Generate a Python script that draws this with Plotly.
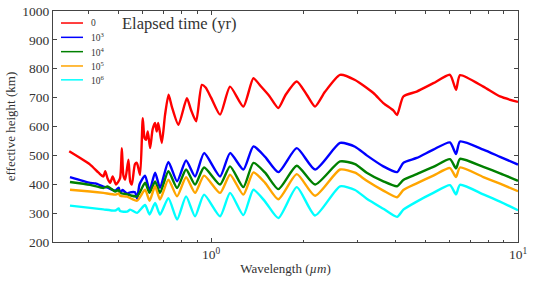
import plotly.graph_objects as go

# ---- data (wavelength in micron, effective height in km) ----
red_wl = [0.345, 0.4036, 0.43, 0.4457, 0.452, 0.46, 0.469, 0.478, 0.49, 0.505, 0.512, 0.518,
          0.525, 0.538, 0.545, 0.552, 0.565, 0.573, 0.587, 0.599, 0.607, 0.614, 0.622, 0.633,
          0.645, 0.657, 0.665, 0.673, 0.691, 0.708, 0.727, 0.745, 0.783, 0.834, 0.86, 0.894,
          0.933, 0.96, 1.0, 1.07, 1.153, 1.274, 1.374, 1.45, 1.55, 1.657, 1.75, 1.902, 2.05,
          2.182, 2.35, 2.632, 2.945, 3.38, 3.641, 3.93, 4.036, 4.231, 4.677, 5.299, 6.003,
          6.281, 6.473, 7.709, 8.738, 10.0]
red_h = [514, 468, 440, 427, 445, 420, 405, 427, 399, 420, 525, 430,
         416, 485, 410, 399, 470, 474, 433, 629, 560, 554, 583, 525,
         590, 612, 583, 612, 543, 640, 710, 669, 606, 698, 658, 618,
         744, 735, 700, 641, 738, 669, 767, 740, 705, 664, 710, 756, 710,
         669, 720, 779, 761, 716, 681, 655, 640, 704, 721, 750, 779,
         727, 778, 738, 704, 685]

blue_wl = [0.347, 0.4036, 0.42, 0.4457, 0.46, 0.4868, 0.50, 0.5053, 0.515, 0.5326, 0.545,
           0.565, 0.5741, 0.585, 0.6095, 0.6303, 0.6571, 0.6819, 0.726, 0.7749, 0.829, 0.8869,
           0.9489, 1.07, 1.153, 1.274, 1.374, 1.5, 1.657, 1.902, 2.182, 2.632, 2.945, 3.215,
           3.641, 4.036, 4.231, 4.677, 5.299, 6.003, 6.281, 6.473, 7.709, 8.738, 10.0]
blue_h = [425, 405, 403, 392, 388, 378, 388, 370, 380, 368, 372,
          372, 350, 400, 430, 378, 440, 388, 477, 410, 482, 427,
          508, 427, 508, 451, 531, 495, 442, 525, 451, 543, 530, 500,
          462, 442, 474, 491, 520, 545, 505, 548, 520, 495, 468]

green_wl = [0.347, 0.4036, 0.4457, 0.46, 0.4868, 0.50, 0.5053, 0.5326, 0.5741, 0.6095, 0.6303,
            0.6571, 0.6819, 0.726, 0.7749, 0.829, 0.8869, 0.9489, 1.07, 1.153, 1.274, 1.374,
            1.5, 1.657, 1.902, 2.182, 2.632, 2.945, 3.215, 3.641, 4.036, 4.231, 4.677, 5.299,
            6.003, 6.281, 6.473, 7.709, 8.738, 10.0]
green_h = [408, 398, 387, 392, 375, 380, 370, 365, 358, 405, 370,
           410, 370, 445, 387, 451, 399, 458, 399, 462, 390, 474,
           440, 383, 464, 399, 479, 470, 440, 410, 393, 415, 435, 460,
           487, 455, 488, 460, 438, 412]

orange_wl = [0.347, 0.4036, 0.4457, 0.4868, 0.50, 0.5053, 0.5326, 0.5741, 0.6095, 0.6303,
             0.6571, 0.6819, 0.726, 0.7749, 0.829, 0.8869, 0.9489, 1.07, 1.153, 1.274, 1.374,
             1.5, 1.657, 1.902, 2.182, 2.632, 2.945, 3.215, 3.641, 4.036, 4.231, 4.677, 5.299,
             6.003, 6.281, 6.473, 7.709, 8.738, 10.0]
orange_h = [381, 375, 370, 364, 368, 360, 357, 343, 381, 343,
            393, 347, 416, 358, 424, 370, 430, 370, 433, 364, 441,
            405, 348, 435, 360, 451, 440, 412, 378, 355, 380, 403, 430,
            456, 425, 458, 425, 402, 376]

cyan_wl = [0.347, 0.4036, 0.4457, 0.4868, 0.50, 0.5053, 0.5326, 0.545, 0.5741, 0.6095, 0.6303,
           0.6571, 0.6819, 0.726, 0.7749, 0.829, 0.8869, 0.9489, 1.07, 1.153, 1.274, 1.374,
           1.5, 1.657, 1.902, 2.182, 2.632, 2.945, 3.215, 3.641, 4.036, 4.231, 4.677, 5.299,
           6.003, 6.281, 6.473, 7.709, 8.738, 10.0]
cyan_h = [326, 318, 313, 309, 316, 307, 305, 312, 301, 328, 295,
          335, 295, 352, 278, 358, 289, 364, 289, 370, 293, 381,
          340, 283, 390, 292, 393, 380, 350, 315, 287, 312, 340, 370,
          397, 365, 398, 365, 340, 310]

series_names = ["0", "10<sup>3</sup>", "10<sup>4</sup>", "10<sup>5</sup>", "10<sup>6</sup>"]
series_colors = ["#ff0000", "#0000ff", "#008000", "#ffa500", "#00ffff"]

y_ticks = [200, 300, 400, 500, 600, 700, 800, 900, 1000]
x_major = [1, 10]
x_major_text = ["10<sup>0</sup>", "10<sup>1</sup>"]
x_minor = [0.4, 0.5, 0.6, 0.7, 0.8, 0.9, 2, 3, 4, 5, 6, 7, 8, 9]

FONT = "Liberation Serif"
AXC = "#444444"
TXT = "#333333"

fig = go.Figure()
data = [(red_wl, red_h), (blue_wl, blue_h), (green_wl, green_h),
        (orange_wl, orange_h), (cyan_wl, cyan_h)]
for (wl, h), name, col in zip(data, series_names, series_colors):
    fig.add_trace(go.Scatter(x=wl, y=h, mode="lines", name=name, showlegend=False,
                             line=dict(color=col, width=2.4, shape="spline", smoothing=0.6)))

# legend drawn in the upper-left corner (paper coordinates)
shapes = []
annotations = []
leg_y = [0.948, 0.886, 0.824, 0.762, 0.702]
for yy, name, col in zip(leg_y, series_names, series_colors):
    shapes.append(dict(type="line", xref="paper", yref="paper", x0=0.0172, x1=0.0645,
                       y0=yy, y1=yy, line=dict(color=col, width=1.5)))
    annotations.append(dict(text=name, x=0.0775, y=yy, xref="paper", yref="paper",
                            xanchor="left", yanchor="middle", showarrow=False,
                            font=dict(size=9.5, family=FONT, color=TXT)))
annotations.append(dict(text="Elapsed time (yr)", x=0.271, y=0.944, xref="paper", yref="paper",
                        xanchor="center", yanchor="middle", showarrow=False,
                        font=dict(size=16.5, family=FONT, color=TXT)))

fig.update_layout(
    width=534, height=281,
    margin=dict(l=53, r=16, t=11, b=39, autoexpand=False),
    paper_bgcolor="white", plot_bgcolor="white",
    font=dict(family=FONT, color=TXT, size=13),
    showlegend=False,
    shapes=shapes,
    annotations=annotations,
)

fig.update_xaxes(type="log", range=[-0.515, 1.0], automargin=False,
                 tickmode="array", tickvals=x_major, ticktext=x_major_text,
                 ticks="inside", ticklen=4, tickcolor=AXC,
                 minor=dict(tickmode="array", tickvals=x_minor, ticks="inside",
                            ticklen=2.5, tickcolor=AXC, showgrid=False),
                 showline=True, linecolor=AXC, linewidth=1, mirror="ticks",
                 showgrid=False, zeroline=False,
                 tickfont=dict(size=13.5),
                 title=dict(text="Wavelength (<i>µm</i>)", font=dict(size=13), standoff=2))
fig.update_yaxes(range=[200, 1000], tickvals=y_ticks, automargin=False,
                 ticks="inside", ticklen=4, tickcolor=AXC,
                 showline=True, linecolor=AXC, linewidth=1, mirror="ticks",
                 showgrid=False, zeroline=False,
                 tickfont=dict(size=13.5),
                 title=dict(text="effective height (km)", font=dict(size=13), standoff=3))

fig.write_html("out.html", config={"displayModeBar": False},
               post_script="document.body.style.margin='0';document.body.style.overflow='hidden';")
